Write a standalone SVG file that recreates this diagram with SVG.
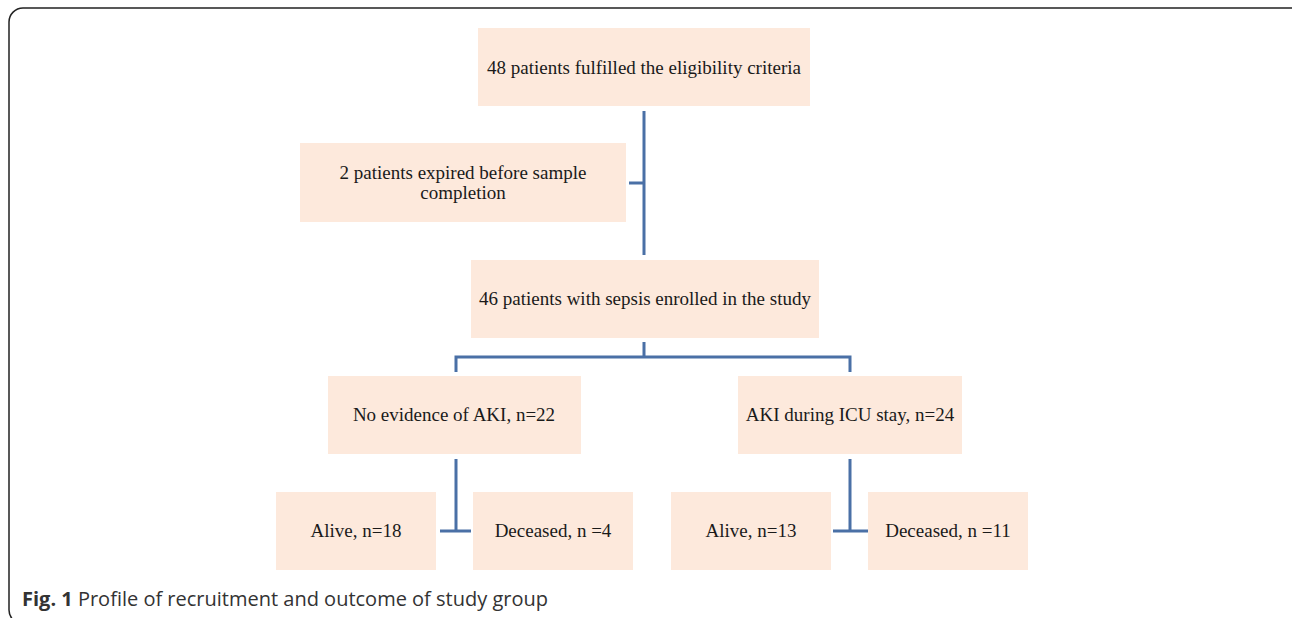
<svg xmlns="http://www.w3.org/2000/svg" width="1292" height="618" viewBox="0 0 1292 618">
<style>
.box{fill:#fde9dc}
.t{font-family:"Liberation Serif","Times New Roman",serif;font-size:19px;fill:#1a1a1a;text-anchor:middle}
.c{fill:none;stroke:#4a70a6;stroke-width:3}
.cap{font-family:"Open Sans","Noto Sans",sans-serif;font-size:20px;fill:#333}
</style>
<rect x="9" y="8" width="1300" height="616" rx="14" fill="#fff" stroke="#222" stroke-width="1.5"/>
<g id="connectors">
<path class="c" d="M644 111V255M629 183H644"/>
<path class="c" d="M644 342V357M456 372V357H850V372"/>
<path class="c" d="M456 459V531M440 531H471"/>
<path class="c" d="M850 459V531M833 531H868"/>
</g>
<g id="n1"><rect class="box" x="478" y="28" width="332" height="78"/><text class="t" x="644" y="74">48 patients fulfilled the eligibility criteria</text></g>
<g id="n2"><rect class="box" x="300" y="143" width="326" height="79"/><text class="t" x="463" y="179">2 patients expired before sample</text><text class="t" x="463" y="199">completion</text></g>
<g id="n3"><rect class="box" x="471" y="260" width="348" height="78"/><text class="t" x="645" y="305">46 patients with sepsis enrolled in the study</text></g>
<g id="n4"><rect class="box" x="328" y="376" width="253" height="78"/><text class="t" x="454" y="421">No evidence of AKI, n=22</text></g>
<g id="n5"><rect class="box" x="738" y="376" width="224" height="78"/><text class="t" x="850" y="421">AKI during ICU stay, n=24</text></g>
<g id="n6"><rect class="box" x="276" y="492" width="160" height="78"/><text class="t" x="356" y="537">Alive, n=18</text></g>
<g id="n7"><rect class="box" x="473" y="492" width="160" height="78"/><text class="t" x="553" y="537">Deceased, n =4</text></g>
<g id="n8"><rect class="box" x="671" y="492" width="160" height="78"/><text class="t" x="751" y="537">Alive, n=13</text></g>
<g id="n9"><rect class="box" x="868" y="492" width="160" height="78"/><text class="t" x="948" y="537">Deceased, n =11</text></g>
<text class="cap" x="22" y="606"><tspan font-weight="bold">Fig. 1</tspan> Profile of recruitment and outcome of study group</text>
</svg>
